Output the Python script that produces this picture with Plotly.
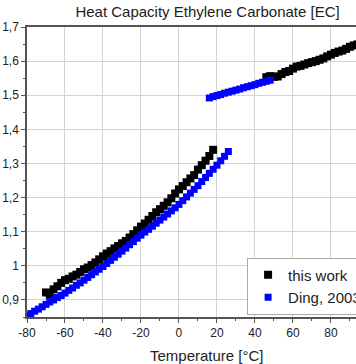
import plotly.graph_objects as go

# ---- data: "this work" (black), two temperature regions ----
this_T1 = [-70, -68, -66, -64, -62, -60, -58, -56, -54, -52, -50, -48, -46, -44, -42, -40,
           -38, -36, -34, -32, -30, -28, -26, -24, -22, -20, -18, -16, -14, -12, -10, -8,
           -6, -4, -2, 0, 2, 4, 6, 8, 10, 12, 14, 16, 18]
this_cp1 = [0.922, 0.915, 0.931, 0.940, 0.950, 0.958, 0.962, 0.969, 0.974, 0.982, 0.990, 0.995,
            1.002, 1.010, 1.019, 1.028, 1.036, 1.043, 1.051, 1.058, 1.066, 1.073, 1.083, 1.093,
            1.104, 1.115, 1.124, 1.135, 1.146, 1.157, 1.166, 1.176, 1.186, 1.198, 1.212, 1.224,
            1.234, 1.245, 1.256, 1.266, 1.282, 1.295, 1.308, 1.322, 1.340]
this_T2 = [46, 48, 50, 52, 54, 56, 58, 60, 62, 64, 66, 68, 70, 72, 74, 76, 78, 80, 82, 84, 86,
           88, 90, 92, 94]
this_cp2 = [1.553, 1.556, 1.554, 1.555, 1.562, 1.568, 1.571, 1.578, 1.584, 1.586, 1.590, 1.594,
            1.597, 1.600, 1.604, 1.608, 1.614, 1.619, 1.624, 1.628, 1.631, 1.636, 1.642, 1.646,
            1.649]

# ---- data: "Ding, 2003" (blue) ----
ding_T1 = [-80, -78, -76, -74, -72, -70, -68, -66, -64, -62, -60, -58, -56, -54, -52, -50, -48,
           -46, -44, -42, -40, -38, -36, -34, -32, -30, -28, -26, -24, -22, -20, -18, -16, -14,
           -12, -10, -8, -6, -4, -2, 0, 2, 4, 6, 8, 10, 12, 14, 16, 18, 20, 22, 24, 26]
ding_cp1 = [0.853, 0.860, 0.867, 0.873, 0.880, 0.887, 0.894, 0.900, 0.907, 0.913, 0.920, 0.928,
            0.935, 0.943, 0.950, 0.958, 0.966, 0.974, 0.982, 0.990, 0.998, 1.007, 1.016, 1.025,
            1.034, 1.043, 1.052, 1.062, 1.071, 1.081, 1.090, 1.099, 1.107, 1.116, 1.125, 1.134,
            1.143, 1.152, 1.161, 1.170, 1.180, 1.191, 1.202, 1.213, 1.224, 1.235, 1.247, 1.259,
            1.271, 1.283, 1.295, 1.308, 1.321, 1.335]
ding_T2 = [16, 18, 20, 22, 24, 26, 28, 30, 32, 34, 36, 38, 40, 42, 44, 46, 48]
ding_cp2 = [1.492, 1.496, 1.499, 1.502, 1.506, 1.509, 1.512, 1.515, 1.518, 1.522, 1.525, 1.528,
            1.531, 1.535, 1.538, 1.541, 1.544]

# ---- tick labels ----
x_tickvals = [-80, -60, -40, -20, 0, 20, 40, 60, 80]
x_ticktext = ["-80", "-60", "-40", "-20", "0", "20", "40", "60", "80"]
y_tickvals = [0.9, 1.0, 1.1, 1.2, 1.3, 1.4, 1.5, 1.6, 1.7]
y_ticktext = ["0,9", "1", "1,1", "1,2", "1,3", "1,4", "1,5", "1,6", "1,7"]
x_minor = [-70, -50, -30, -10, 10, 30, 50, 70, 90]
y_minor = [0.85, 0.95, 1.05, 1.15, 1.25, 1.35, 1.45, 1.55, 1.65]

FONT = "Liberation Sans, Arial, sans-serif"

fig = go.Figure()
fig.add_trace(go.Scatter(
    x=this_T1 + this_T2, y=this_cp1 + this_cp2, mode="markers", name="this work",
    marker=dict(symbol="square", size=8, color="black", line=dict(width=0)),
))
fig.add_trace(go.Scatter(
    x=ding_T1 + ding_T2, y=ding_cp1 + ding_cp2, mode="markers", name="Ding, 2003",
    marker=dict(symbol="square", size=7, color="#0000ff", line=dict(width=0)),
))

axis_common = dict(
    showline=True, linecolor="#555555", linewidth=1.5, mirror=True,
    showgrid=True, gridcolor="#d3d3d3", gridwidth=1,
    ticks="outside", ticklen=4, tickwidth=1, tickcolor="#555555",
    tickfont=dict(family=FONT, size=12, color="#222222"),
    zeroline=False, tickmode="array", automargin=False,
)

fig.update_xaxes(
    range=[-80, 93.2], tickvals=x_tickvals, ticktext=x_ticktext,
    minor=dict(tickmode="array", tickvals=x_minor, ticks="outside", ticklen=2.5,
               tickcolor="#555555", showgrid=False),
    **axis_common,
)
fig.update_yaxes(
    range=[0.85, 1.7], tickvals=y_tickvals, ticktext=y_ticktext,
    minor=dict(tickmode="array", tickvals=y_minor, ticks="outside", ticklen=2.5,
               tickcolor="#555555", showgrid=False),
    **axis_common,
)

fig.update_layout(
    width=356, height=364,
    margin=dict(l=27, r=0, t=27, b=47, autoexpand=False),
    paper_bgcolor="white", plot_bgcolor="white",
    font=dict(family=FONT, color="#222222"),
    title=dict(text="Heat Capacity Ethylene Carbonate [EC]", xref="container", x=0.583,
               xanchor="center", yref="container", y=0.969, yanchor="middle",
               font=dict(family=FONT, size=15, color="#222222")),
    legend=dict(x=0.669, y=0.205, xanchor="left", yanchor="top",
                bgcolor="white", bordercolor="#aaaaaa", borderwidth=1,
                font=dict(family=FONT, size=15, color="#222222"),
                tracegroupgap=0),
    annotations=[dict(text="Temperature [°C]", xref="paper", yref="paper", x=0.547, y=0,
                      xanchor="center", yanchor="middle", yshift=-38, showarrow=False,
                      font=dict(family=FONT, size=15, color="#222222"))],
)

fig.write_html("out.html", config={"displayModeBar": False},
               post_script="document.body.style.margin='0px';document.body.style.overflow='hidden';")
